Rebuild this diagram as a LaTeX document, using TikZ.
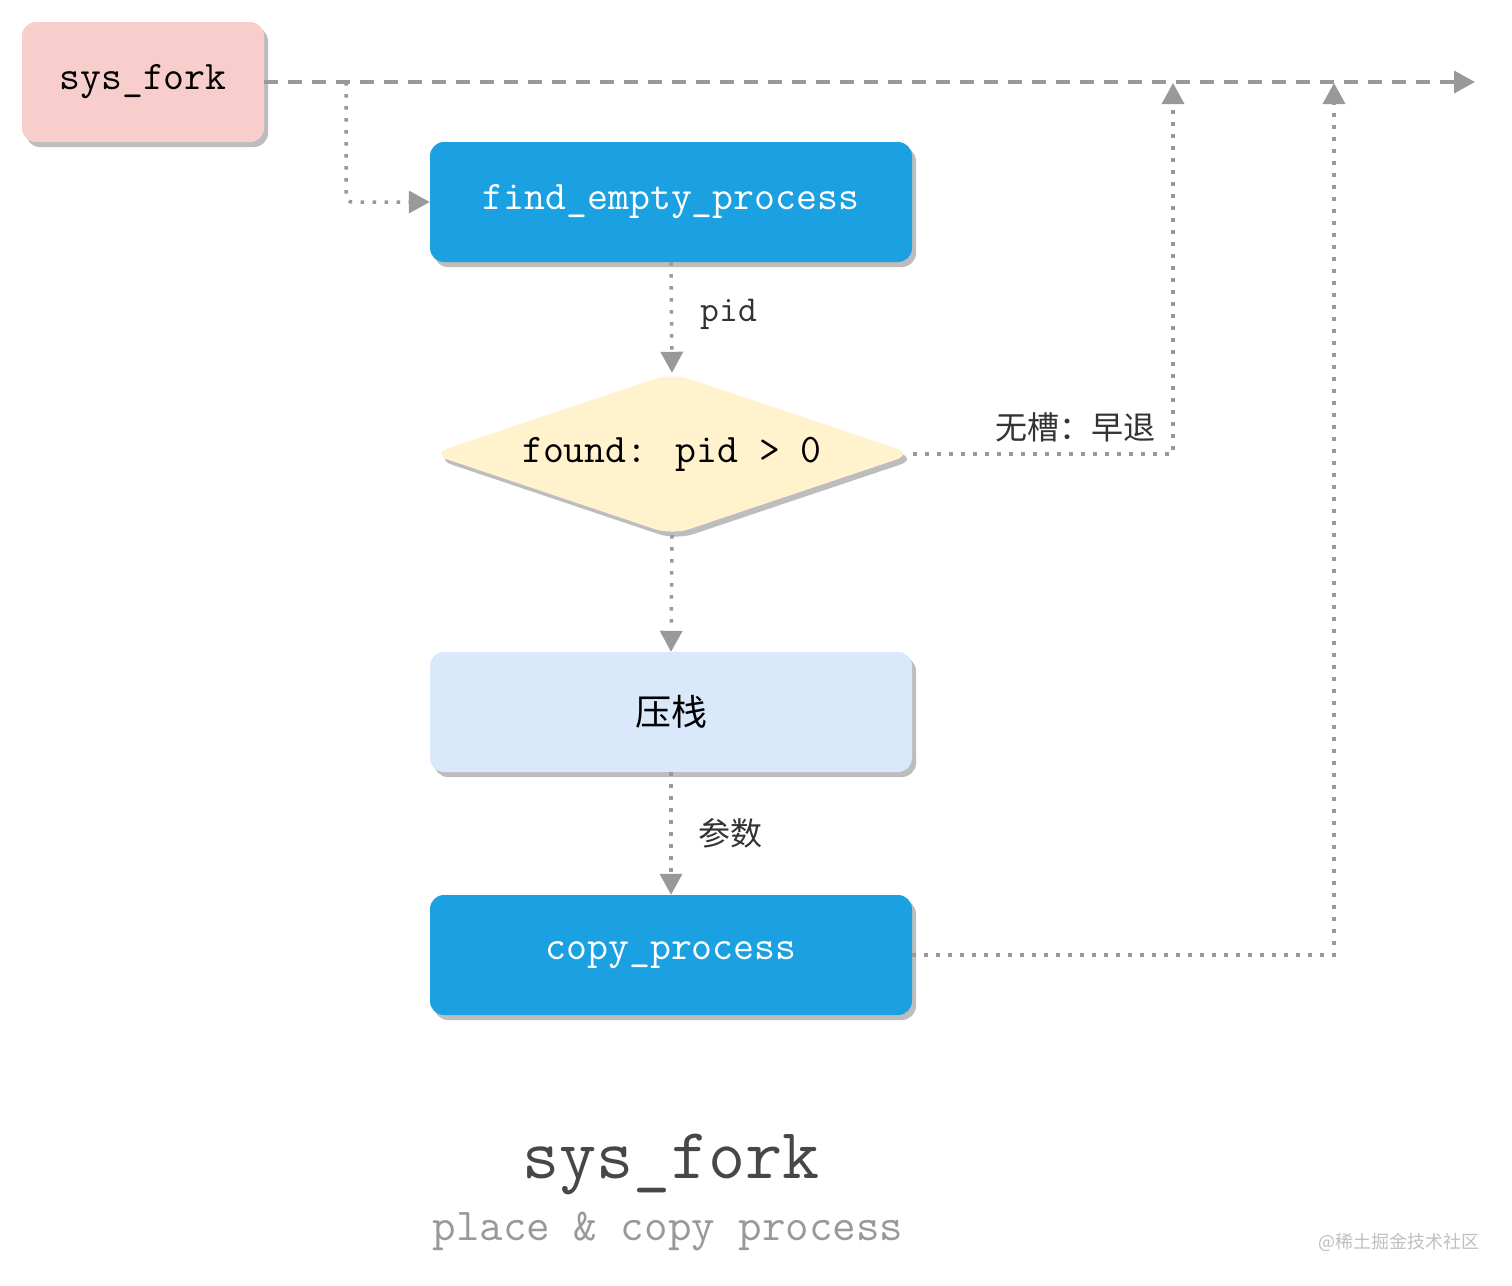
\documentclass[tikz,border=0pt]{standalone}
\usepackage{fontspec}
\newfontfamily\cjkf{Noto Sans CJK SC}
\usetikzlibrary{shapes.geometric,shadows,arrows.meta}
\definecolor{pinkfill}{HTML}{F8CECC}
\definecolor{bluefill}{HTML}{1BA1E2}
\definecolor{lightblue}{HTML}{DAE8FC}
\definecolor{yellowfill}{HTML}{FFF2CC}
\definecolor{linegray}{HTML}{999999}
\definecolor{shadowgray}{HTML}{BDBDBD}
\definecolor{labelgray}{HTML}{333333}
\begin{document}
\begin{tikzpicture}[x=1pt,y=-1pt,
  boxshadow/.style={drop shadow={shadow xshift=4pt,shadow yshift=-5pt,fill=shadowgray,opacity=1}},
  procbox/.style={rectangle,rounded corners=14pt,minimum width=482pt,minimum height=120pt,
    boxshadow,draw=none,inner sep=0pt,font=\ttfamily\fontsize{40.6}{44}\selectfont},
  tip/.style={-{Triangle[length=21pt,width=22pt]}},
  dotline/.style={draw=linegray,line width=3.5pt,dash pattern=on 3.5pt off 8.5pt,tip},
  dashline/.style={draw=linegray,line width=4pt,dash pattern=on 14pt off 10pt,tip},
  edgelabel/.style={text=labelgray},
]
\useasboundingbox[fill=white] (0,0) rectangle (1512,1285);

% nodes
\node[procbox,fill=pinkfill,minimum width=242pt,text=black] (sf) at (143,82) {sys\_fork};
\node[procbox,fill=bluefill,text=white] (fe) at (671,202) {find\_empty\_process};
\node[diamond,shape aspect=3,boxshadow,fill=yellowfill,minimum width=482pt,minimum height=162pt,
  rounded corners=18pt,inner sep=0pt,font=\ttfamily\fontsize{40.6}{44}\selectfont] (dia) at (672,454) {found: pid > 0};
\node[procbox,fill=lightblue,text=black,font=\cjkf\fontsize{36}{40}\selectfont] (ya) at (671,712) {压栈};
\node[procbox,fill=bluefill,text=white] (cp) at (671,955) {copy\_process};

% junctions
\coordinate (mainend) at (1475,82);
\coordinate (j1) at (346,82);
\coordinate (j2) at (1173,83);
\coordinate (j3) at (1334,83);

% connectors
\draw[dashline] (sf.east) -- (mainend);
\draw[dotline,rounded corners=6pt] (j1) |- (fe.west);
\draw[dotline] (fe.south) -- (dia.north);
\draw[dotline] (dia.east) -| (j2);
\draw[dotline] (dia.south) -- (ya.north);
\draw[dotline] (ya.south) -- (cp.north);
\draw[dotline] (cp.east) -| (j3);

% labels
\node[edgelabel,font=\ttfamily\fontsize{36.6}{40}\selectfont] (lpid) at (729,314) {pid};
\node[edgelabel,font=\cjkf\fontsize{32}{36}\selectfont] (lno) at (1075,427) {无槽：早退};
\node[edgelabel,font=\cjkf\fontsize{32}{36}\selectfont] (lcs) at (730,833) {参数};

% title
\node[text=black!72,font=\ttfamily\fontsize{72}{80}\selectfont] (title) at (671,1164) {sys\_fork};
\node[text=black!40,font=\ttfamily\fontsize{45.7}{52}\selectfont] (sub) at (668,1231) {place \& copy process};
\node[text=black!25,font=\cjkf\fontsize{18}{22}\selectfont] (wm) at (1399,1242) {@稀土掘金技术社区};
\end{tikzpicture}
\end{document}
